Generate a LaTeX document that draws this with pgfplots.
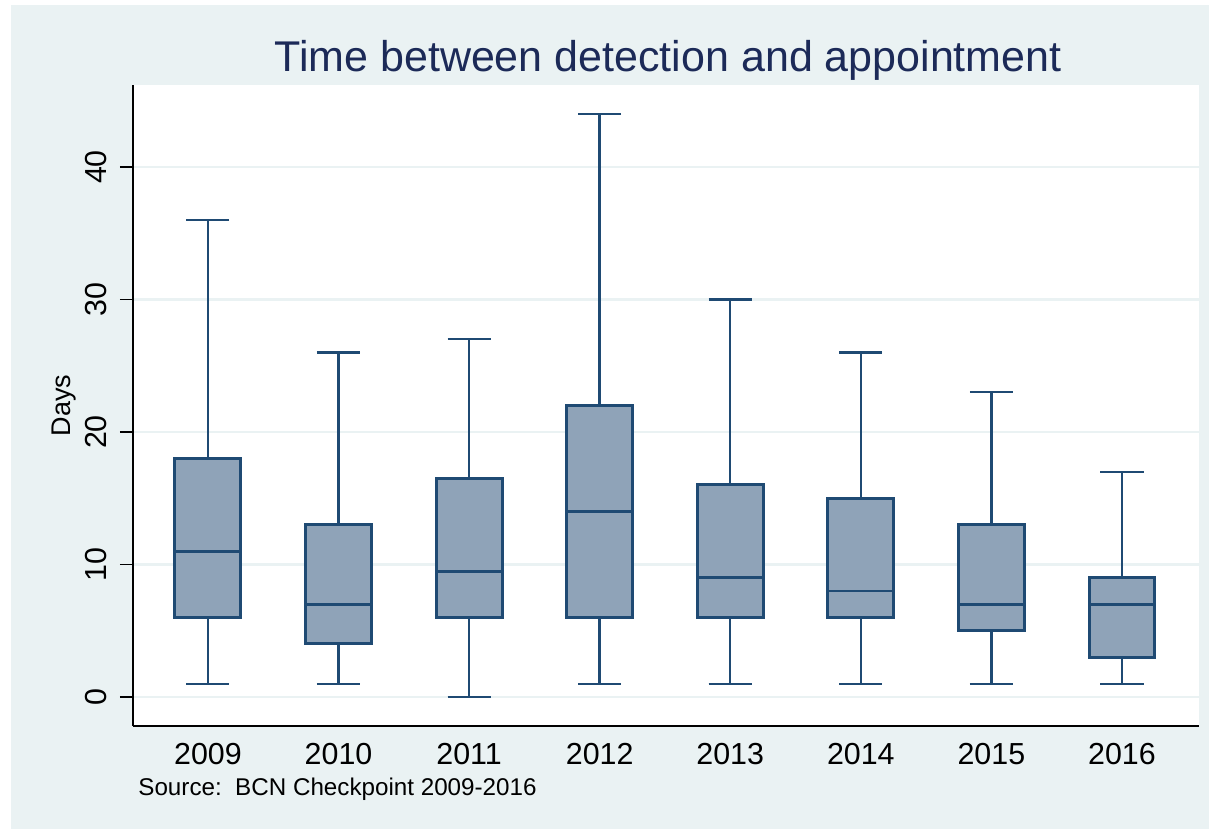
\documentclass[border=0pt]{standalone}
\usepackage{fontspec}
\setmainfont{Liberation Sans}
\usepackage{pgfplots}
\pgfplotsset{compat=1.18}
\usepgfplotslibrary{statistics}
\definecolor{bgc}{HTML}{EAF2F3}
\definecolor{gridc}{HTML}{EAF2F3}
\definecolor{boxline}{HTML}{1F4A73}
\definecolor{boxfill}{HTML}{8FA3B8}
\definecolor{titlec}{HTML}{1C2A58}
\begin{document}
\begin{tikzpicture}[x=1pt,y=1pt]
\fill[white] (-66.5,-51.5) rectangle (538,363);
\fill[bgc] (-61,-51.5) rectangle (538,360.5);
\begin{axis}[
  at={(0,0)}, anchor=south west,
  scale only axis, width=533pt, height=320.5pt,
  xmin=0.426, xmax=8.59, ymin=-2.19, ymax=46.19,
  axis background/.style={fill=white},
  axis x line*=bottom, axis y line*=left,
  axis line style={-, line width=0.8pt, black},
  xtick={1,2,3,4,5,6,7,8},
  xticklabels={2009,2010,2011,2012,2013,2014,2015,2016},
  major x tick style={draw=none},
  ytick={0,10,20,30,40},
  tick align=outside,
  major tick length=6.5pt,
  major y tick style={black, line width=0.7pt},
  ymajorgrids, grid style={gridc, line width=1.2pt},
  /pgf/number format/assume math mode=true,
  tick label style={font=\fontsize{15.2}{17}\selectfont, black},
  yticklabel style={rotate=90, anchor=south, inner sep=0pt, yshift=6.5pt},
  xticklabel style={anchor=north, inner sep=0pt, yshift=-2pt},
  ylabel={Days},
  ylabel style={font=\fontsize{13.5}{15}\selectfont, at={(axis description cs:-0.0647,0.5)}, anchor=center},
  boxplot/draw direction=y,
  boxplot/box extend=0.505,
  boxplot/whisker extend=0.33,
  every boxplot/.style={draw=boxline, fill=boxfill, line width=1.5pt, solid},
  boxplot/every whisker/.style={line width=1.2pt, solid},
  boxplot/every median/.style={line width=1.4pt, solid},
  clip=false,
]
\addplot[boxplot prepared={draw position=1, lower whisker=1, lower quartile=6, median=11, upper quartile=18, upper whisker=36}, draw=boxline, fill=boxfill, mark=none] coordinates {};
\addplot[boxplot prepared={draw position=2, lower whisker=1, lower quartile=4, median=7, upper quartile=13, upper whisker=26}, draw=boxline, fill=boxfill, mark=none] coordinates {};
\addplot[boxplot prepared={draw position=3, lower whisker=0, lower quartile=6, median=9.5, upper quartile=16.5, upper whisker=27}, draw=boxline, fill=boxfill, mark=none] coordinates {};
\addplot[boxplot prepared={draw position=4, lower whisker=1, lower quartile=6, median=14, upper quartile=22, upper whisker=44}, draw=boxline, fill=boxfill, mark=none] coordinates {};
\addplot[boxplot prepared={draw position=5, lower whisker=1, lower quartile=6, median=9, upper quartile=16, upper whisker=30}, draw=boxline, fill=boxfill, mark=none] coordinates {};
\addplot[boxplot prepared={draw position=6, lower whisker=1, lower quartile=6, median=8, upper quartile=15, upper whisker=26}, draw=boxline, fill=boxfill, mark=none] coordinates {};
\addplot[boxplot prepared={draw position=7, lower whisker=1, lower quartile=5, median=7, upper quartile=13, upper whisker=23}, draw=boxline, fill=boxfill, mark=none] coordinates {};
\addplot[boxplot prepared={draw position=8, lower whisker=1, lower quartile=3, median=7, upper quartile=9, upper whisker=17}, draw=boxline, fill=boxfill, mark=none] coordinates {};
\end{axis}
\node[anchor=base, text=titlec, font=\fontsize{21.5}{23}\selectfont, inner sep=0pt] at (267.5,327) {Time between detection and appointment};
\node[anchor=base west, font=\fontsize{12.1}{14}\selectfont, inner sep=0pt] at (2.5,-34.5) {Source:\ \ BCN Checkpoint 2009-2016};
\pgfresetboundingbox
\path[use as bounding box] (-66.5,-51.5) rectangle (538,363);
\end{tikzpicture}
\end{document}
